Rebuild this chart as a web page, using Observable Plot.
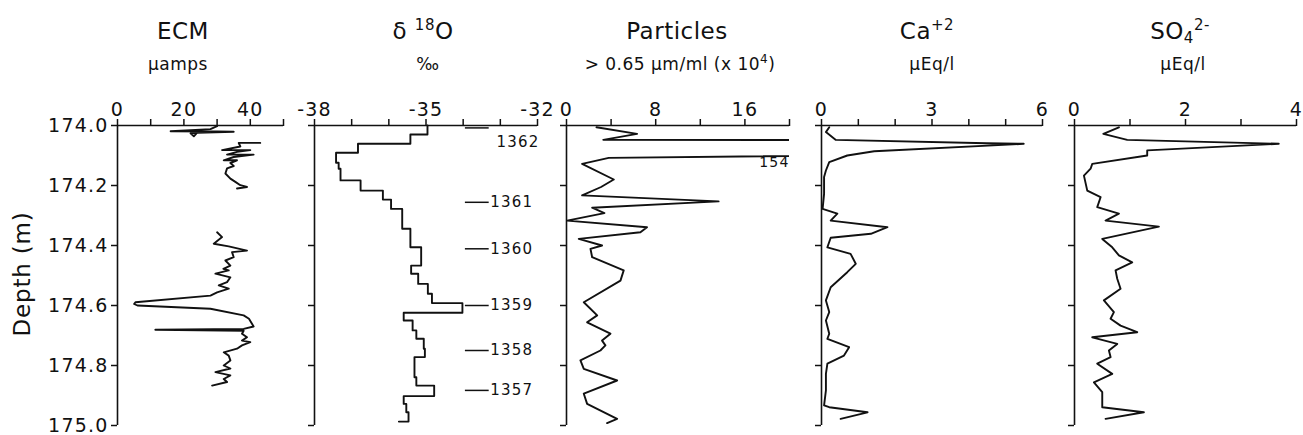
<!DOCTYPE html>
<html><head><meta charset="utf-8">
<script src="https://cdn.jsdelivr.net/npm/d3@7"></script>
<script src="https://cdn.jsdelivr.net/npm/@observablehq/plot@0.6"></script>
<style>
html,body{margin:0;padding:0;background:#fff;}
#chart{position:relative;width:1303px;height:435px;font-family:"DejaVu Sans",sans-serif;color:#111;overflow:hidden;}
.panel{position:absolute;top:0;}
.panel svg text{letter-spacing:1.2px;}
.title{position:absolute;transform:translateX(-50%);white-space:nowrap;font-size:23px;line-height:23px;top:20px;letter-spacing:0.5px;}
.sub{position:absolute;transform:translateX(-50%);white-space:nowrap;font-size:17px;line-height:17px;top:56px;letter-spacing:0.5px;}
.title sup{font-size:15px;vertical-align:9px;line-height:0;}
.title sub{font-size:15px;vertical-align:-4px;line-height:0;}
.sub sup{font-size:12px;vertical-align:7px;line-height:0;}
.ylab{position:absolute;left:22px;top:274px;transform:translate(-50%,-50%) rotate(-90deg);font-size:23px;white-space:nowrap;letter-spacing:0.8px;}
g[aria-label="x-axis tick"], g[aria-label="y-axis tick"]{stroke-width:1.5px;}
</style>
</head><body>
<div id="chart"></div>
<script>
// ---- Data ----
const depthTicks = [174.0, 174.2, 174.4, 174.6, 174.8, 175.0];

// ECM (µamps): three measured sections, null = gap
const ecmDepth = [
  174.002,174.012,174.019,174.020,174.021,174.024,174.036,174.026,174.020,
  null,
  174.058,174.058,174.070,174.082,174.082,174.088,174.097,174.097,174.105,174.116,174.116,174.125,174.135,174.143,174.160,174.177,174.188,174.199,174.205,174.210,
  null,
  174.356,174.372,174.394,174.403,174.417,174.422,174.439,174.450,174.467,174.478,174.483,174.494,174.506,174.522,174.533,174.544,174.556,174.567,174.589,174.595,174.600,174.611,174.633,174.644,174.670,174.678,174.681,174.684,174.694,174.706,174.717,174.722,174.733,174.744,174.756,174.767,174.783,174.800,174.810,174.822,174.833,174.845,174.855,174.867
];
const ecmValue = [
  30,28,16,30,35,24,23,22,28,
  null,
  43,36.5,37,31.5,40,36,33,41,35,32,36,34,35,33,32.5,34,35.5,37,39,36,
  null,
  30,31.5,29,33.5,39,34.5,35,32.5,34,31.9,33.5,29.5,34,33,30.5,33.5,30,28,5.4,5,6,28,38,39.6,41,38,11.4,38,37.5,39,37.5,40,37.5,36,32,33.5,34,32,34,29.5,34,32,33,28.5
];

// delta 18O (per mil): step profile, top depth of each sample
const d18oDepth = [174.000,174.030,174.061,174.091,174.124,174.144,174.183,174.217,174.247,174.278,174.344,174.406,174.467,174.494,174.528,174.561,174.592,174.624,174.650,174.683,174.711,174.744,174.772,174.839,174.867,174.902,174.928,174.956,174.987];
const d18oValue = [-34.96,-35.42,-36.83,-37.42,-37.35,-37.30,-36.76,-36.16,-35.94,-35.64,-35.42,-35.13,-35.40,-35.21,-34.95,-34.84,-34.02,-35.60,-35.36,-35.26,-35.06,-35.03,-35.31,-35.26,-34.78,-35.60,-35.53,-35.47,-35.73];

// Year markers
const years = ["1362","1361","1360","1359","1358","1357"];
const yearDepth = [174.008,174.256,174.411,174.600,174.750,174.883];

// Particles > 0.65 µm/ml (x10^4)
const partDepth = [174.006,174.028,174.048,174.050,174.108,174.128,174.180,174.205,174.233,174.253,174.274,174.292,174.317,174.339,174.356,174.378,174.400,174.411,174.439,174.483,174.517,174.589,174.633,174.656,174.694,174.717,174.733,174.750,174.783,174.811,174.850,174.894,174.928,174.978,174.992];
const partValue = [2.69,6.33,3.30,154,3.79,1.40,4.24,3.10,1.40,13.64,2.30,3.40,0.06,7.22,6.63,1.10,3.19,2.15,2.30,5.13,4.84,1.55,2.75,1.85,3.94,3.19,3.49,3.04,1.25,1.55,4.54,1.55,1.85,4.54,3.64];
const partPeakLabel = "154";

// Ca+2 (µEq/l)
const caDepth = [174.006,174.022,174.048,174.059,174.061,174.086,174.100,174.122,174.150,174.172,174.228,174.278,174.294,174.317,174.339,174.361,174.374,174.406,174.428,174.461,174.489,174.539,174.583,174.622,174.650,174.694,174.711,174.739,174.767,174.794,174.828,174.883,174.933,174.939,174.956,174.978];
const caValue = [0.21,0.12,0.39,4.49,5.49,1.43,0.70,0.21,0.12,0.07,0.07,0.03,0.43,0.25,1.79,1.34,0.25,0.16,0.79,0.93,0.70,0.25,0.12,0.21,0.12,0.21,0.16,0.75,0.61,0.16,0.12,0.12,0.07,0.21,1.25,0.52];

// SO4 2- (µEq/l)
const so4Depth = [174.006,174.028,174.048,174.061,174.083,174.100,174.128,174.144,174.167,174.217,174.239,174.272,174.294,174.317,174.337,174.378,174.406,174.433,174.456,174.483,174.511,174.544,174.583,174.622,174.644,174.667,174.689,174.706,174.728,174.750,174.772,174.794,174.828,174.856,174.889,174.939,174.956,174.978];
const so4Value = [0.80,0.52,0.95,3.68,1.31,1.31,0.32,0.29,0.17,0.23,0.47,0.41,0.80,0.56,1.52,0.50,0.68,0.80,1.04,0.74,0.77,0.83,0.53,0.71,0.65,0.83,1.13,0.32,0.77,0.62,0.65,0.41,0.68,0.35,0.50,0.50,1.25,0.56];

// ---- Layout ----
const chart = document.getElementById("chart");
const rows = (ds, vs) => ds.map((d, i) => ({depth: d, value: vs[i]}));
const LW = 1.9;

function panel(cfg, marks) {
  const svg = Plot.plot({
    width: cfg.ml + cfg.w + cfg.mr, height: 435,
    marginLeft: cfg.ml, marginRight: cfg.mr, marginTop: 125, marginBottom: 10,
    style: {background: "transparent", fontFamily: "DejaVu Sans, sans-serif", fontSize: "19px", color: "#111", overflow: "visible"},
    x: {domain: cfg.domain, axis: "top", ticks: cfg.ticks, tickFormat: d => cfg.labels.includes(d) ? String(d) : "", tickSize: 7, tickPadding: 3, label: null},
    y: {domain: [174, 175], reverse: true, axis: "left", ticks: depthTicks, tickFormat: cfg.ylabels ? (d => d.toFixed(1)) : (() => ""), tickSize: 6, tickPadding: 3, label: null},
    marks: [
      Plot.ruleY([174], {strokeWidth: 1.6}),
      Plot.ruleX([cfg.domain[0]], {strokeWidth: 1.6}),
      ...marks
    ]
  });
  const wrap = document.createElement("div");
  wrap.className = "panel";
  wrap.style.left = cfg.left + "px";
  wrap.appendChild(svg);
  chart.appendChild(wrap);
}

function label(cls, x, html) {
  const d = document.createElement("div");
  d.className = cls; d.style.left = x + "px"; d.innerHTML = html;
  chart.appendChild(d);
}

// ECM
panel({left: 0, ml: 117, w: 166, mr: 12, domain: [0, 50], ticks: [0,10,20,30,40,50], labels: [0,20,40], ylabels: true}, [
  Plot.line(rows(ecmDepth, ecmValue), {x: "value", y: "depth", strokeWidth: LW})
]);
// delta 18O
const yr = years.map((t, i) => ({year: t, depth: yearDepth[i]}));
panel({left: 295, ml: 19, w: 223, mr: 14, domain: [-38, -32], ticks: [-38,-37,-36,-35,-34,-33,-32], labels: [-38,-35,-32]}, [
  Plot.line(rows(d18oDepth, d18oValue), {x: "value", y: "depth", curve: "step-before", strokeWidth: LW}),
  Plot.ruleY(yr, {y: "depth", x1: -33.94, x2: -33.3, strokeWidth: 1.5}),
  Plot.text(yr.slice(0, 1), {x: -33.1, y: "depth", text: "year", textAnchor: "start", dy: 14, fontSize: 15}),
  Plot.text(yr.slice(1), {x: -33.27, y: "depth", text: "year", textAnchor: "start", fontSize: 15})
]);
// Particles
panel({left: 551, ml: 15, w: 223, mr: 12, domain: [0, 20], ticks: [0,4,8,12,16,20], labels: [0,8,16]}, [
  Plot.line(rows(partDepth, partValue), {x: "value", y: "depth", strokeWidth: LW, clip: true}),
  Plot.text([{depth: partDepth[partValue.indexOf(154)], t: partPeakLabel}], {x: 20, y: "depth", text: "t", textAnchor: "end", dy: 22, fontSize: 14})
]);
// Ca
panel({left: 801, ml: 20, w: 221, mr: 10, domain: [0, 6], ticks: [0,1,2,3,4,5,6], labels: [0,3,6]}, [
  Plot.line(rows(caDepth, caValue), {x: "value", y: "depth", strokeWidth: LW})
]);
// SO4
panel({left: 1052, ml: 22, w: 222, mr: 7, domain: [0, 4], ticks: [0,1,2,3,4], labels: [0,2,4]}, [
  Plot.line(rows(so4Depth, so4Value), {x: "value", y: "depth", strokeWidth: LW})
]);

// Titles
label("title", 183, "ECM");
label("sub", 178, "&mu;amps");
label("title", 423, "&delta; <sup>18</sup>O");
label("sub", 428, "&permil;");
label("title", 677, "Particles");
label("sub", 680, "&gt; 0.65 &mu;m/ml (x 10<sup>4</sup>)");
label("title", 927, "Ca<sup>+2</sup>");
label("sub", 932, "&mu;Eq/l");
label("title", 1180, "SO<sub>4</sub><sup>2-</sup>");
label("sub", 1183, "&mu;Eq/l");
const yl = document.createElement("div");
yl.className = "ylab"; yl.textContent = "Depth (m)";
chart.appendChild(yl);
</script>
</body></html>
